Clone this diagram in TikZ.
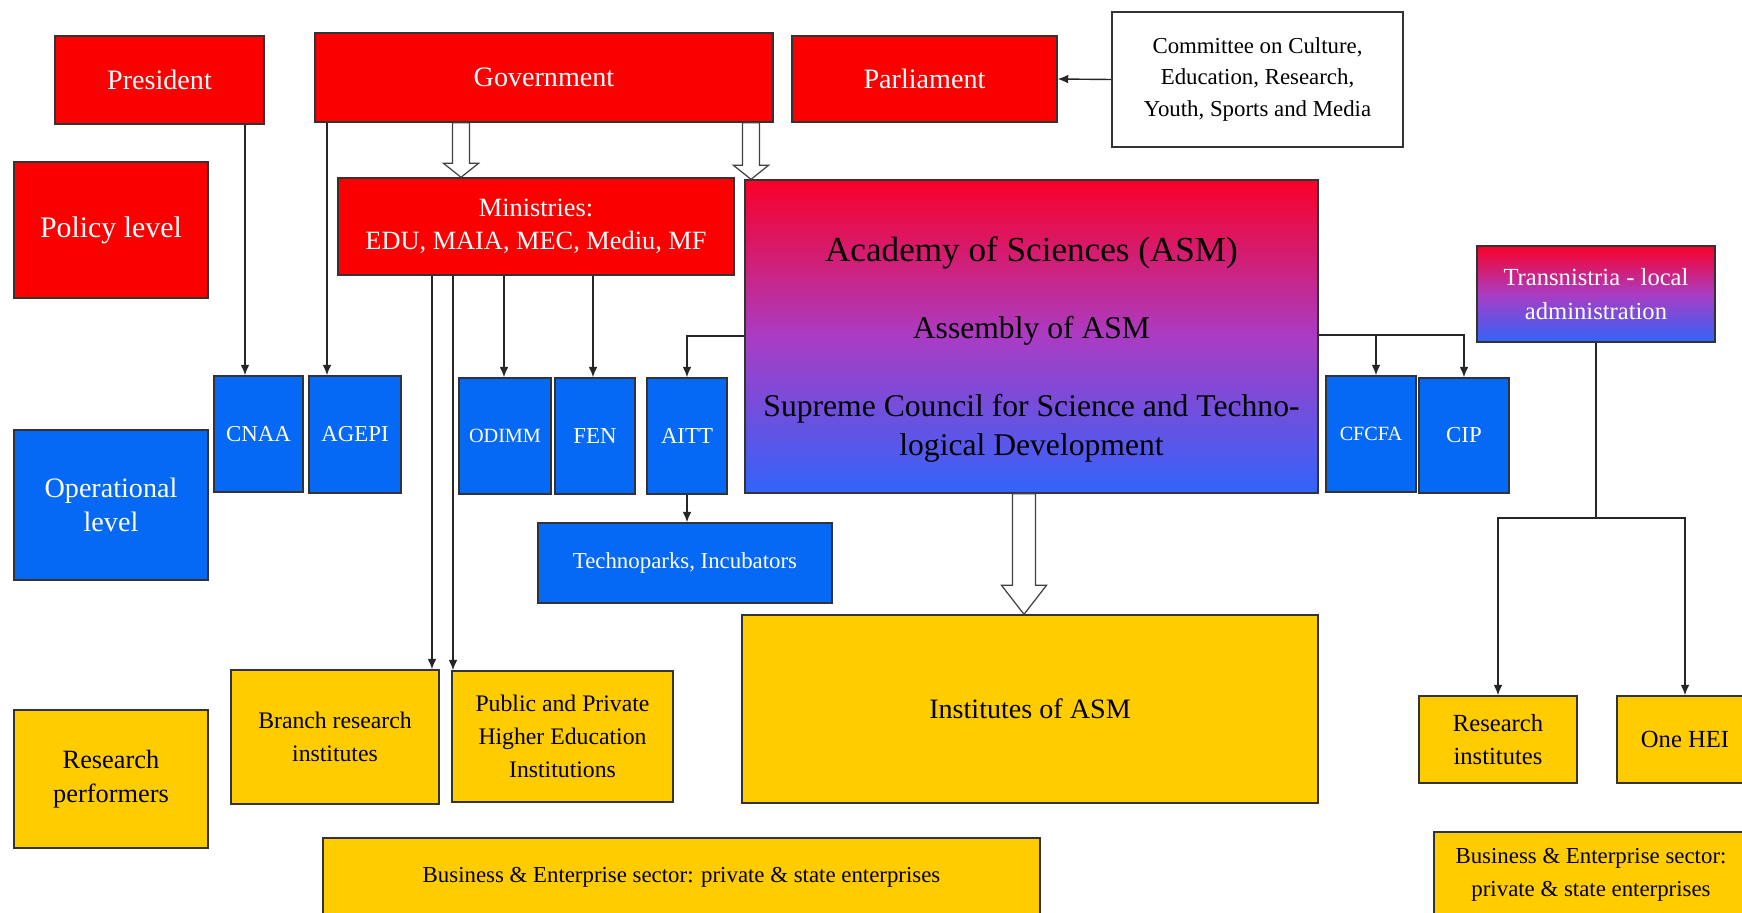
\documentclass[tikz,border=0pt]{standalone}
\usepackage{fontspec}
\setmainfont{Liberation Serif}
\usetikzlibrary{arrows.meta,calc}

\definecolor{polred}{RGB}{250,0,0}
\definecolor{opblue}{RGB}{5,105,245}
\definecolor{perfyellow}{RGB}{255,204,0}
\definecolor{gradtop}{RGB}{250,0,40}
\definecolor{gradmid}{RGB}{170,60,195}
\definecolor{gradbot}{RGB}{50,100,250}

\tikzset{
  box/.style={draw=black!80, line width=0.8pt, inner sep=2pt, align=center},
  policy/.style={box, fill=polred, text=white},
  oper/.style={box, fill=opblue, text=white},
  perf/.style={box, fill=perfyellow, text=black},
  mixed/.style={box, top color=gradtop, bottom color=gradbot, middle color=gradmid},
  link/.style={line width=0.8pt, draw=black!85},
  tip/.style={link, -{Latex[length=6pt,width=5pt]}},
}
\newcommand{\fs}[2]{\fontsize{#1}{#2}\selectfont}
% hollow block arrow: start, end, half shaft, half head, head length
\newcommand{\hollowarrow}[5]{%
  \draw[fill=white, draw=black!75, line width=0.7pt] let \p1=#1, \p2=#2 in
    (\x1-#3,\y1) -- (\x1-#3,\y2+#5) -- (\x1-#4,\y2+#5) -- (\x1,\y2)
    -- (\x1+#4,\y2+#5) -- (\x1+#3,\y2+#5) -- (\x1+#3,\y1) -- cycle;}

\begin{document}
\begin{tikzpicture}[x=0.02cm, y=-0.02cm]
  \useasboundingbox (0,0) rectangle (1742,913);

  \node[policy, minimum width=4.18cm, minimum height=1.76cm, font=\fs{16}{19}] (pres) at (159.5,80) {President};
  \node[policy, minimum width=9.16cm, minimum height=1.78cm, font=\fs{16}{19}] (gov) at (544,77.5) {Government};
  \node[policy, minimum width=5.3cm, minimum height=1.72cm, font=\fs{16}{19}] (parl) at (924.5,79) {Parliament};
  \node[box, fill=white, minimum width=5.82cm, minimum height=2.7cm, font=\fs{13}{18}] (comm) at (1257.5,79.5)
    {Committee on Culture,\\Education, Research,\\Youth, Sports and Media};
  \node[policy, minimum width=3.88cm, minimum height=2.72cm, font=\fs{17}{20}] (policy) at (111,230) {Policy level};
  \node[policy, minimum width=7.92cm, minimum height=1.94cm, font=\fs{15}{19}] (min) at (536,226.5)
    {Ministries:\\EDU, MAIA, MEC, Mediu, MF};

  \node[mixed, minimum width=11.46cm, minimum height=6.26cm] (asm) at (1031.5,336.5) {};
  \node[font=\fs{20}{24}] (asmname) at (1031.5,253) {Academy of Sciences (ASM)};
  \node[font=\fs{18}{22}] (asmassembly) at (1031.5,331) {Assembly of ASM};
  \node[font=\fs{18}{22}, align=center] (asmcouncil) at (1031.5,428)
    {Supreme Council for Science and Techno-\\logical Development};
  \node[mixed, text=white, minimum width=4.76cm, minimum height=1.92cm, font=\fs{14}{19.5}] (trans) at (1596,294)
    {Transnistria - local\\administration};

  \node[oper, minimum width=3.88cm, minimum height=3cm, font=\fs{16}{19}] (oper) at (111,505) {Operational\\level};
  \node[oper, minimum width=1.78cm, minimum height=2.32cm, font=\fs{13}{16}] (cnaa) at (258.5,434) {CNAA};
  \node[oper, minimum width=1.84cm, minimum height=2.34cm, font=\fs{13}{16}] (agepi) at (355,434.5) {AGEPI};
  \node[oper, minimum width=1.84cm, minimum height=2.32cm, font=\fs{11.5}{14}] (odimm) at (505,436) {ODIMM};
  \node[oper, minimum width=1.6cm, minimum height=2.32cm, font=\fs{13}{16}] (fen) at (595,436) {FEN};
  \node[oper, minimum width=1.6cm, minimum height=2.32cm, font=\fs{13}{16}] (aitt) at (687,436) {AITT};
  \node[oper, minimum width=5.88cm, minimum height=1.6cm, font=\fs{13}{16}] (techno) at (685,563) {Technoparks, Incubators};
  \node[oper, minimum width=1.8cm, minimum height=2.32cm, font=\fs{11.5}{14}] (cfcfa) at (1371,434) {CFCFA};
  \node[oper, minimum width=1.8cm, minimum height=2.3cm, font=\fs{13}{16}] (cip) at (1464,435.5) {CIP};

  \node[perf, minimum width=3.88cm, minimum height=2.76cm, font=\fs{15}{19.5}] (perf) at (111,779) {Research\\performers};
  \node[perf, minimum width=4.16cm, minimum height=2.68cm, font=\fs{13.5}{19}] (branch) at (335,737) {Branch research\\institutes};
  \node[perf, minimum width=4.42cm, minimum height=2.62cm, font=\fs{13.5}{18.6}] (hei) at (562.5,736.5)
    {Public and Private\\Higher Education\\Institutions};
  \node[perf, minimum width=11.52cm, minimum height=3.76cm, font=\fs{16}{19}] (inst) at (1030,709) {Institutes of ASM};
  \node[perf, minimum width=3.16cm, minimum height=1.74cm, font=\fs{14}{19}] (resinst) at (1498,739.5) {Research\\institutes};
  \node[perf, minimum width=2.72cm, minimum height=1.74cm, font=\fs{14}{19}] (onehei) at (1685,739.5) {One HEI};
  \node[perf, minimum width=14.34cm, minimum height=1.56cm, font=\fs{13}{16}] (busleft) at (681.5,877)
    {Business \& Enterprise sector: private \& state enterprises};
  \node[perf, minimum width=6.28cm, minimum height=1.72cm, font=\fs{13}{19}] (busright) at (1591,875)
    {Business \& Enterprise sector:\\private \& state enterprises};

  \draw[tip] (comm.west) -- (parl.east);
  \draw[tip] (pres.south -| 245,0) -- (cnaa.north -| 245,0);
  \draw[tip] (gov.south -| 327,0) -- (agepi.north -| 327,0);
  \draw[tip] (min.south -| 432,0) -- (branch.north -| 432,0);
  \draw[tip] (min.south -| 453,0) -- (hei.north -| 453,0);
  \draw[tip] (min.south -| 504,0) -- (odimm.north -| 504,0);
  \draw[tip] (min.south -| 593,0) -- (fen.north -| 593,0);
  \draw[tip] (asm.west |- 0,336) -| (aitt.north);
  \draw[tip] (aitt.south) -- (aitt.south |- techno.north);
  \draw[tip] (asm.east |- 0,335) -| (cfcfa.north -| 1376,0);
  \draw[tip] (asm.east |- 0,335) -| (cip.north);
  \draw[link] (trans.south) -- (trans.south |- 0,518) coordinate (split);
  \draw[tip] (split) -| (resinst.north);
  \draw[tip] (split) -| (onehei.north);

  \hollowarrow{(gov.south -| 461,0)}{(min.north -| 461,0)}{4.8pt}{10pt}{8pt}
  \hollowarrow{(gov.south -| 751,0)}{(asm.north -| 751,0)}{4.8pt}{10pt}{8pt}
  \hollowarrow{(asm.south -| 1024,0)}{(inst.north -| 1024,0)}{6.5pt}{12.8pt}{16.5pt}
\end{tikzpicture}
\end{document}
